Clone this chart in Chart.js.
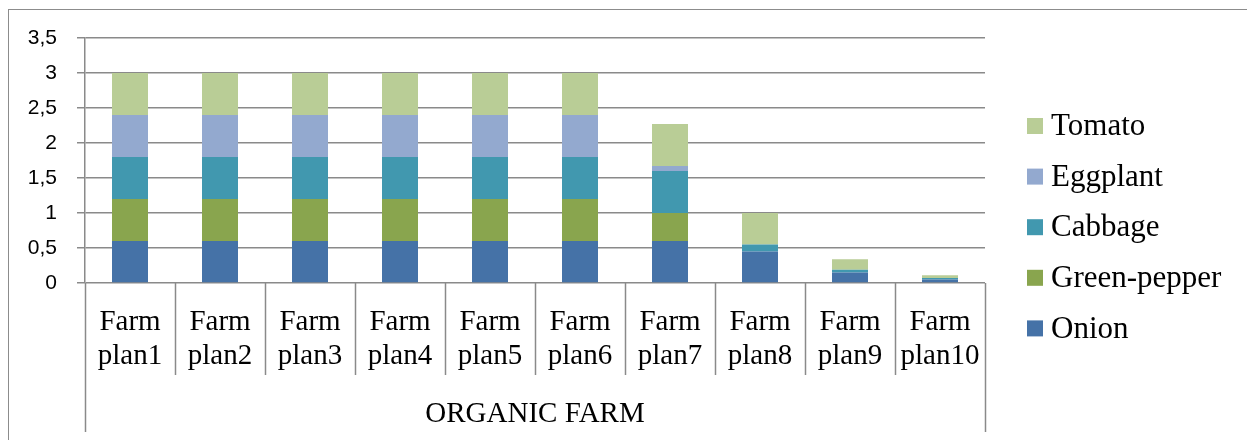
<!DOCTYPE html>
<html>
<head>
<meta charset="utf-8">
<script src="https://cdn.jsdelivr.net/npm/chart.js@4/dist/chart.umd.min.js"></script>
<style>
  html, body { margin: 0; padding: 0; background: #ffffff; }
  #wrap { position: relative; width: 1247px; height: 440px; }
  #frame { position: absolute; left: 8px; top: 9px; right: 0; bottom: 0;
           border-top: 1px solid #8c8c8c; border-left: 1px solid #8c8c8c; pointer-events: none; }
  canvas { display: block; }
</style>
</head>
<body>
<div id="wrap">
  <canvas id="chart" width="1247" height="440"></canvas>
  <div id="frame"></div>
</div>
<script>
// Farm plans (x categories) and the group they belong to
const categories = [
  ["Farm", "plan1"], ["Farm", "plan2"], ["Farm", "plan3"], ["Farm", "plan4"], ["Farm", "plan5"],
  ["Farm", "plan6"], ["Farm", "plan7"], ["Farm", "plan8"], ["Farm", "plan9"], ["Farm", "plan10"]
];
const groupLabel = "ORGANIC FARM";

// Crop area per farm plan, stacked bottom to top
const onion       = [0.6, 0.6, 0.6, 0.6, 0.6, 0.6, 0.6, 0.45, 0.15, 0.05];
const greenPepper = [0.6, 0.6, 0.6, 0.6, 0.6, 0.6, 0.4, 0,    0,    0];
const cabbage     = [0.6, 0.6, 0.6, 0.6, 0.6, 0.6, 0.6, 0.1,  0.04, 0.02];
const eggplant    = [0.6, 0.6, 0.6, 0.6, 0.6, 0.6, 0.07, 0,   0,    0];
const tomato      = [0.6, 0.6, 0.6, 0.6, 0.6, 0.6, 0.6, 0.45, 0.15, 0.04];

// Value axis ticks
const yTicks = [0, 0.5, 1, 1.5, 2, 2.5, 3, 3.5];

const GRID = '#8a8a8a';
const SERIF = '"Liberation Serif", "Times New Roman", serif';

// Category separators below the axis, plus the outer box of the group label
const categoryBoxes = {
  id: 'categoryBoxes',
  afterDraw(chart) {
    const { ctx, chartArea, scales: { x } } = chart;
    const n = chart.data.labels.length;
    const step = (x.right - x.left) / n;
    const innerEnd = chartArea.bottom + 92;
    const outerEnd = chart.height - 8;
    ctx.save();
    ctx.strokeStyle = GRID;
    ctx.lineWidth = 1.5;
    for (let i = 0; i <= n; i++) {
      const px = Math.round(x.left + i * step) + 0.5;
      ctx.beginPath();
      ctx.moveTo(px, chartArea.bottom);
      ctx.lineTo(px, (i === 0 || i === n) ? outerEnd : innerEnd);
      ctx.stroke();
    }
    ctx.restore();
  }
};

// Legend on the right, listed top-down from the last stacked series
const sideLegend = {
  id: 'sideLegend',
  afterDraw(chart) {
    const { ctx, chartArea } = chart;
    const sets = chart.data.datasets.slice().reverse();
    const boxX = chartArea.right + 42;
    const textX = boxX + 24;
    const top = chartArea.top + 80;
    const gap = 50.6;
    ctx.save();
    ctx.font = '31px ' + SERIF;
    ctx.textBaseline = 'middle';
    ctx.textAlign = 'left';
    sets.forEach((ds, i) => {
      const y = top + i * gap;
      ctx.fillStyle = ds.backgroundColor;
      ctx.fillRect(boxX, y, 16, 16);
      ctx.fillStyle = '#000000';
      ctx.fillText(ds.label, textX, y + 9);
    });
    ctx.restore();
  }
};

new Chart(document.getElementById('chart'), {
  type: 'bar',
  data: {
    labels: categories,
    datasets: [
      { label: 'Onion',        data: onion,       backgroundColor: '#4572A7' },
      { label: 'Green-pepper', data: greenPepper, backgroundColor: '#89A54E' },
      { label: 'Cabbage',      data: cabbage,     backgroundColor: '#4198AF' },
      { label: 'Eggplant',     data: eggplant,    backgroundColor: '#93A9CF' },
      { label: 'Tomato',       data: tomato,      backgroundColor: '#B9CD96' }
    ]
  },
  options: {
    responsive: false,
    animation: false,
    layout: { padding: { left: 0, top: 38, right: 262, bottom: 0 } },
    datasets: { bar: { categoryPercentage: 1, barPercentage: 0.4 } },
    plugins: { legend: { display: false }, tooltip: { enabled: false } },
    scales: {
      x: {
        stacked: true,
        afterFit(s) { s.height = 157; },
        grid: { display: false },
        border: { display: false },
        ticks: {
          color: '#000000',
          padding: 15,
          maxRotation: 0,
          autoSkip: false,
          font: { family: SERIF, size: 29, lineHeight: 1.15 }
        },
        title: {
          display: true,
          text: groupLabel,
          color: '#000000',
          font: { family: SERIF, size: 29, lineHeight: 1.15 },
          padding: { top: 0, bottom: 9 }
        }
      },
      y: {
        stacked: true,
        min: 0,
        max: 3.5,
        afterFit(s) { s.width = 85; },
        afterBuildTicks(s) { s.ticks = yTicks.map(v => ({ value: v })); },
        grid: { color: GRID, lineWidth: 1.5, tickLength: 8, drawTicks: true },
        border: { display: true, color: GRID, width: 1.5 },
        ticks: {
          color: '#000000',
          padding: 20,
          font: { family: '"Liberation Sans", Arial, sans-serif', size: 21 },
          callback: v => String(v).replace('.', ',')
        }
      }
    }
  },
  plugins: [categoryBoxes, sideLegend]
});
</script>
</body>
</html>
